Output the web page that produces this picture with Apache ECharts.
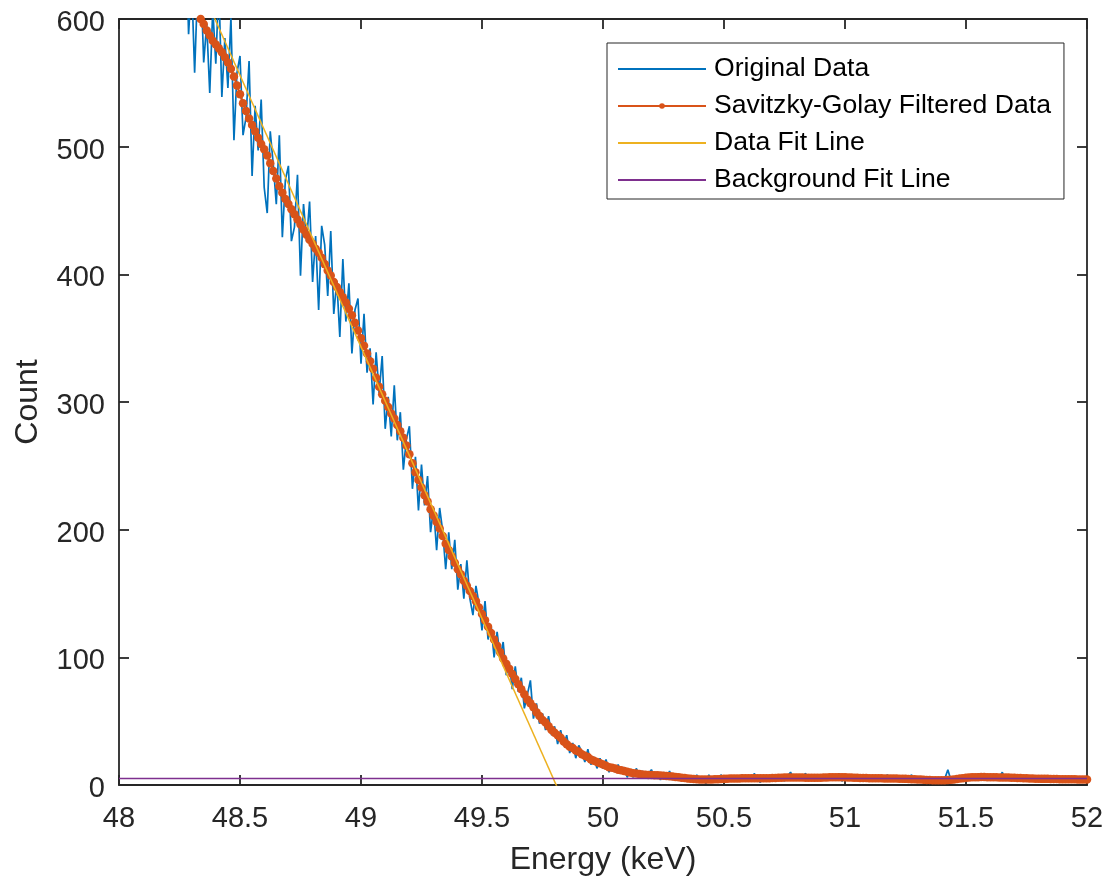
<!DOCTYPE html>
<html>
<head>
<meta charset="utf-8">
<script src="https://cdn.jsdelivr.net/npm/echarts@6/dist/echarts.min.js"></script>
<style>
html,body{margin:0;padding:0;background:#fff;}
#chart{width:1109px;height:882px;}
</style>
</head>
<body>
<div id="chart"></div>
<script>
// Energy sampling grid (keV)
const energyStart = 48.25;
const energyStep = 0.0125;

// Original measured counts
const originalCounts = [
680,618,681,588,630,558,626,635,566,596,
542,608,565,627,539,585,546,601,505,558,
571,509,523,567,477,532,497,537,468,448,
512,486,455,509,429,474,485,426,437,478,
399,455,426,457,394,430,372,438,423,383,
434,369,395,351,412,363,393,338,372,381,
330,369,323,342,298,339,307,336,279,304,
273,313,270,292,247,271,281,232,257,215,
251,219,242,198,217,184,217,199,169,198,
169,192,153,173,146,176,146,133,156,142,
121,144,114,125,100,120,100,112,86,96,
75,93,73,84,60,71,82,52,64,48,
56,43,54,39,46,32,43,31,39,25,
33,21,31,26,18,28,16,22,13,21,
13,20,10,16,10,16,10,14,6,12,
6,13,7,11,5,9,12,6,10,4,
10,5,11,4,7,8,3,8,3,6,
3,8,3,6,1,8,2,6,3,8,4,
6,3,7,4,5,8,3,6,4,9,5,2,7,5,4,6,
8,4,6,3,7,10,5,6,4,7,9,4,6,3,7,5,
6,8,4,7,5,9,3,6,8,4,7,5,6,3,8,5,
4,7,5,3,6,8,4,5,7,3,6,4,5,8,3,5,
4,6,2,5,3,4,5,3,5,12,4,6,3,7,5,8,
5,7,4,9,6,5,8,4,7,5,6,10,4,7,5,6,
4,8,5,3,6,7,4,5,3,6,5,4,7,3,5,6,
4,5,3,6,4,5,3,5
];

// Savitzky-Golay filtered counts
const filteredCounts = [
650,643,636,628,620,613,606,600,596,591,
587,583,580,577,574,570,566,561,555,548,
541,534,528,522,517,512,507,502,498,493,
487,481,475,469,464,459,455,451,447,443,
439,435,431,427,424,420,417,413,408,403,
399,394,390,386,382,378,373,368,362,356,
350,344,338,332,326,319,312,306,301,296,
291,287,282,277,272,266,259,252,245,239,
233,227,222,216,211,206,201,195,189,184,
179,174,169,165,160,156,152,148,144,139,
134,129,124,119,114,109,104,99,95,91,
87,83,79,75,71,67,64,61,57,54,
51,49,46,43,41,39,37,34,32,30,
29,27,26,24,23,22,20,19,18,17,
16,15,14,13.5,13,12,11.5,11,10.3,9.8,
9.3,9,8.6,8.3,8.1,7.9,7.8,7.7,7.6,7.4,
7.2,7.0,6.8,6.6,6.3,6.0,5.7,5.4,5.1,4.9,
4.7,4.5,4.4,4.3,4.3,4.3,4.4,4.5,4.6,4.7,4.8,
4.9,5.0,5.0,5.1,5.1,5.2,5.2,5.2,5.3,5.3,5.3,5.3,5.2,5.2,5.3,5.4,
5.5,5.6,5.7,5.8,5.8,5.9,5.9,5.9,5.8,5.8,5.7,5.7,5.6,5.6,5.6,5.7,
5.8,5.9,6.0,6.0,6.1,6.1,6.0,6.0,5.9,5.8,5.7,5.6,5.5,5.4,5.4,5.3,
5.3,5.2,5.2,5.2,5.1,5.1,5.0,5.0,5.0,4.9,4.9,4.8,4.7,4.6,4.5,4.4,
4.3,4.2,4.0,3.9,3.8,3.7,3.7,3.7,3.8,3.9,4.1,4.4,4.7,5.0,5.3,5.6,
5.8,6.0,6.1,6.1,6.2,6.2,6.1,6.1,6.0,6.0,5.9,5.9,5.8,5.8,5.7,5.6,
5.5,5.4,5.3,5.2,5.1,5.0,4.9,4.9,4.8,4.8,4.8,4.7,4.7,4.7,4.6,4.6,
4.6,4.5,4.5,4.5,4.4,4.4,4.4,4.3
];

// Linear fit of the falling edge (endpoints)
const dataFitEnergy = [48.30, 49.83];
const dataFitCounts = [641, -10];

// Background fit line (endpoints)
const backgroundEnergy = [48, 52];
const backgroundCounts = [5, 5];

// Axis ticks
const xTicks = [48, 48.5, 49, 49.5, 50, 50.5, 51, 51.5, 52];
const yTicks = [0, 100, 200, 300, 400, 500, 600];

const seriesNames = ['Original Data', 'Savitzky-Golay Filtered Data', 'Data Fit Line', 'Background Fit Line'];
const colors = ['#0072BD', '#D95319', '#EDB120', '#7E2F8E'];

function pairs(xs, ys) { return ys.map((v, i) => [xs[i], v]); }
function gridPairs(ys) { return ys.map((v, i) => [energyStart + i * energyStep, v]); }

const axisColor = '#262626';
const fontFam = '"Liberation Sans", Arial, Helvetica, sans-serif';

const chart = echarts.init(document.getElementById('chart'), null, {renderer: 'canvas'});

const xMin = xTicks[0], xMax = xTicks[xTicks.length - 1], xInt = xTicks[1] - xTicks[0];
const yMin = yTicks[0], yMax = yTicks[yTicks.length - 1], yInt = yTicks[1] - yTicks[0];

const baseAxisLine = {show: true, onZero: false, lineStyle: {color: axisColor, width: 1.8}};
const baseTick = {show: true, inside: true, length: 10, lineStyle: {color: axisColor, width: 1.8}};

chart.setOption({
  animation: false,
  backgroundColor: '#fff',
  grid: {left: 119, right: 22, top: 19, bottom: 97, containLabel: false},
  xAxis: [
    {
      type: 'value', min: xMin, max: xMax, interval: xInt, position: 'bottom',
      axisLine: baseAxisLine, axisTick: baseTick, splitLine: {show: false},
      axisLabel: {fontSize: 29, color: axisColor, margin: 19, fontFamily: fontFam},
      name: 'Energy (keV)', nameLocation: 'middle', nameGap: 59,
      nameTextStyle: {fontSize: 32, color: axisColor, fontFamily: fontFam}
    },
    {
      type: 'value', min: xMin, max: xMax, interval: xInt, position: 'top',
      axisLine: baseAxisLine, axisTick: baseTick, splitLine: {show: false},
      axisLabel: {show: false}
    }
  ],
  yAxis: [
    {
      type: 'value', min: yMin, max: yMax, interval: yInt, position: 'left',
      axisLine: baseAxisLine, axisTick: baseTick, splitLine: {show: false},
      axisLabel: {fontSize: 29, color: axisColor, margin: 14, fontFamily: fontFam, verticalAlign: 'top', lineHeight: 8},
      name: 'Count', nameLocation: 'middle', nameGap: 75, nameRotate: 90,
      nameTextStyle: {fontSize: 32, color: axisColor, fontFamily: fontFam}
    },
    {
      type: 'value', min: yMin, max: yMax, interval: yInt, position: 'right',
      axisLine: baseAxisLine, axisTick: baseTick, splitLine: {show: false},
      axisLabel: {show: false}
    }
  ],
  legend: {
    orient: 'vertical', left: 607, top: 43,
    padding: [11, 13, 4, 10],
    itemWidth: 88, itemHeight: 7, itemGap: 7,
    backgroundColor: '#fff', borderColor: axisColor, borderWidth: 1,
    selectedMode: false,
    textStyle: {fontSize: 26.6, color: '#000', fontFamily: fontFam, lineHeight: 30, padding: [0, 0, 0, 3]},
    data: [
      {name: seriesNames[0], itemStyle: {opacity: 0}},
      {name: seriesNames[1]},
      {name: seriesNames[2], itemStyle: {opacity: 0}},
      {name: seriesNames[3], itemStyle: {opacity: 0}}
    ]
  },
  series: [
    {
      name: seriesNames[0], type: 'line', data: gridPairs(originalCounts),
      symbol: 'none', clip: true, z: 2,
      lineStyle: {color: colors[0], width: 1.7}, itemStyle: {color: colors[0]}
    },
    {
      name: seriesNames[1], type: 'line', data: gridPairs(filteredCounts),
      symbol: 'circle', symbolSize: 8.5, showSymbol: true, showAllSymbol: true, clip: true, z: 3,
      lineStyle: {color: colors[1], width: 2.2}, itemStyle: {color: colors[1]}
    },
    {
      name: seriesNames[2], type: 'line', data: pairs(dataFitEnergy, dataFitCounts),
      symbol: 'none', clip: true, z: 4,
      lineStyle: {color: colors[2], width: 1.5}, itemStyle: {color: colors[2]}
    },
    {
      name: seriesNames[3], type: 'line', data: pairs(backgroundEnergy, backgroundCounts),
      symbol: 'none', clip: true, z: 5,
      lineStyle: {color: colors[3], width: 1.5}, itemStyle: {color: colors[3]}
    }
  ]
});
</script>
</body>
</html>
